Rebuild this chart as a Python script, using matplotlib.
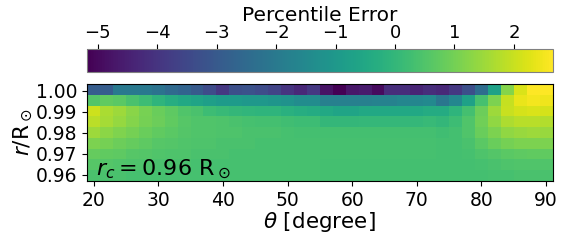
import numpy as np
import matplotlib
matplotlib.use('Agg')
import matplotlib.pyplot as plt

# theta bin centres (degree) and r bin centres (r / R_sun)
theta = [20, 22, 24, 26, 28, 30, 32, 34, 36, 38, 40, 42, 44, 46, 48, 50, 52, 54,
         56, 58, 60, 62, 64, 66, 68, 70, 72, 74, 76, 78, 80, 82, 84, 86, 88, 90]
r = [0.9596, 0.9647, 0.9699, 0.9750, 0.9802, 0.9853, 0.9904, 0.9956, 1.0007]

# percentile error, rows listed from top (r ~ 1.00) to bottom (r ~ 0.96)
row_100 = [-2.9, -2.9, -2.0, -2.0, -2.0, -2.2, -2.5, -2.7, -3.0,
           -3.4, -3.9, -3.3, -3.2, -3.4, -3.6, -4.0, -4.3, -3.9,
           -4.8, -5.18, -4.7, -4.6, -4.95, -4.2, -4.2, -4.4, -4.2,
           -4.3, -3.9, -3.3, -2.4, -0.7, 1.2, 2.2, 2.65, 2.65]
row_0995 = [0.55, 0.75, 0.65, 0.4, 0.2, -0.1, -0.3, -0.5, -0.6,
            -0.8, -0.9, -0.9, -1.0, -1.0, -1.1, -1.2, -1.4, -1.4,
            -1.8, -1.8, -1.8, -1.8, -1.7, -1.7, -1.6, -1.6, -1.5,
            -2.1, -1.6, -0.7, 0.35, 1.1, 1.95, 2.4, 2.5, 2.45]
row_099 = [2.05, 1.65, 1.5, 1.25, 1.05, 0.85, 0.7, 0.5, 0.4,
           0.2, 0.1, 0.0, -0.05, -0.1, -0.1, -0.2, -0.3, -0.4,
           -0.5, -0.6, -0.6, -0.5, -0.5, -0.5, -0.5, -0.5, -0.4,
           -0.4, -0.1, 0.3, 0.9, 1.5, 2.0, 2.15, 2.2, 2.15]
row_0985 = [1.85, 1.6, 1.4, 1.2, 1.0, 0.9, 0.75, 0.6, 0.5,
            0.5, 0.45, 0.4, 0.35, 0.3, 0.3, 0.25, 0.2, 0.2,
            0.0, 0.0, 0.0, 0.05, 0.05, 0.05, 0.05, 0.05, 0.1,
            0.0, 0.2, 0.5, 0.95, 1.35, 1.7, 1.8, 1.8, 1.75]
row_098 = [1.5, 1.3, 1.15, 1.0, 0.85, 0.75, 0.65, 0.55, 0.5,
           0.5, 0.45, 0.45, 0.4, 0.4, 0.4, 0.35, 0.3, 0.3,
           0.3, 0.3, 0.3, 0.3, 0.3, 0.3, 0.3, 0.3, 0.3,
           0.25, 0.3, 0.5, 0.85, 1.1, 1.35, 1.45, 1.5, 1.45]
row_0975 = [1.1, 1.0, 0.9, 0.8, 0.7, 0.6, 0.55, 0.5, 0.45,
            0.45, 0.4, 0.4, 0.4, 0.35, 0.35, 0.35, 0.35, 0.35,
            0.35, 0.35, 0.35, 0.35, 0.35, 0.35, 0.35, 0.35, 0.35,
            0.3, 0.3, 0.4, 0.65, 0.85, 1.0, 1.1, 1.1, 1.1]
row_097 = [0.8, 0.75, 0.7, 0.6, 0.55, 0.5, 0.45, 0.45, 0.4,
           0.4, 0.4, 0.35, 0.35, 0.35, 0.35, 0.35, 0.35, 0.35,
           0.35, 0.35, 0.35, 0.35, 0.35, 0.35, 0.35, 0.35, 0.35,
           0.3, 0.3, 0.35, 0.45, 0.55, 0.65, 0.7, 0.75, 0.75]
row_0965 = [0.6, 0.55, 0.5, 0.45, 0.45, 0.4, 0.4, 0.4, 0.35,
            0.35, 0.35, 0.35, 0.35, 0.35, 0.35, 0.35, 0.35, 0.35,
            0.3, 0.3, 0.3, 0.3, 0.3, 0.3, 0.3, 0.3, 0.3,
            0.3, 0.3, 0.3, 0.35, 0.4, 0.45, 0.5, 0.5, 0.5]
row_096 = [0.4, 0.4, 0.4, 0.35, 0.35, 0.35, 0.35, 0.35, 0.35,
           0.35, 0.35, 0.35, 0.35, 0.35, 0.35, 0.35, 0.35, 0.35,
           0.3, 0.3, 0.3, 0.3, 0.3, 0.3, 0.3, 0.3, 0.3,
           0.3, 0.3, 0.3, 0.3, 0.35, 0.35, 0.4, 0.4, 0.4]

err = np.array([row_096, row_0965, row_097, row_0975, row_098,
                row_0985, row_099, row_0995, row_100])

yticks = [0.96, 0.97, 0.98, 0.99, 1.00]
cbar_ticks = [-5, -4, -3, -2, -1, 0, 1, 2]

fig = plt.figure(figsize=(5.81, 2.42), dpi=100)
ax = fig.add_axes([0.150, 0.252, 0.801, 0.401])
cax = fig.add_axes([0.150, 0.703, 0.801, 0.096])

mesh = ax.pcolormesh(theta, r, err, cmap='viridis', shading='nearest',
                     vmin=err.min(), vmax=err.max())
ax.set_yticks(yticks)
ax.set_yticklabels([f'{v:.2f}' for v in yticks])
ax.set_xticks([20, 30, 40, 50, 60, 70, 80, 90])
ax.tick_params(labelsize=13.5)
ax.set_xlabel(r'$\theta$ [degree]', fontsize=15.5, labelpad=0)
ax.set_ylabel(r'$r/\mathrm{R}_\odot$', fontsize=15.5, labelpad=1)
ax.text(0.02, 0.06, r'$r_c = 0.96\ \mathrm{R}_\odot$', transform=ax.transAxes,
        fontsize=16)

cb = fig.colorbar(mesh, cax=cax, orientation='horizontal', ticks=cbar_ticks)
cax.xaxis.set_ticks_position('top')
cax.xaxis.set_label_position('top')
cax.tick_params(labelsize=13, pad=1.5)
cb.set_label('Percentile Error', fontsize=14.5, labelpad=2)
cb.outline.set_edgecolor('gray')

fig.savefig('out.png', dpi=100)
